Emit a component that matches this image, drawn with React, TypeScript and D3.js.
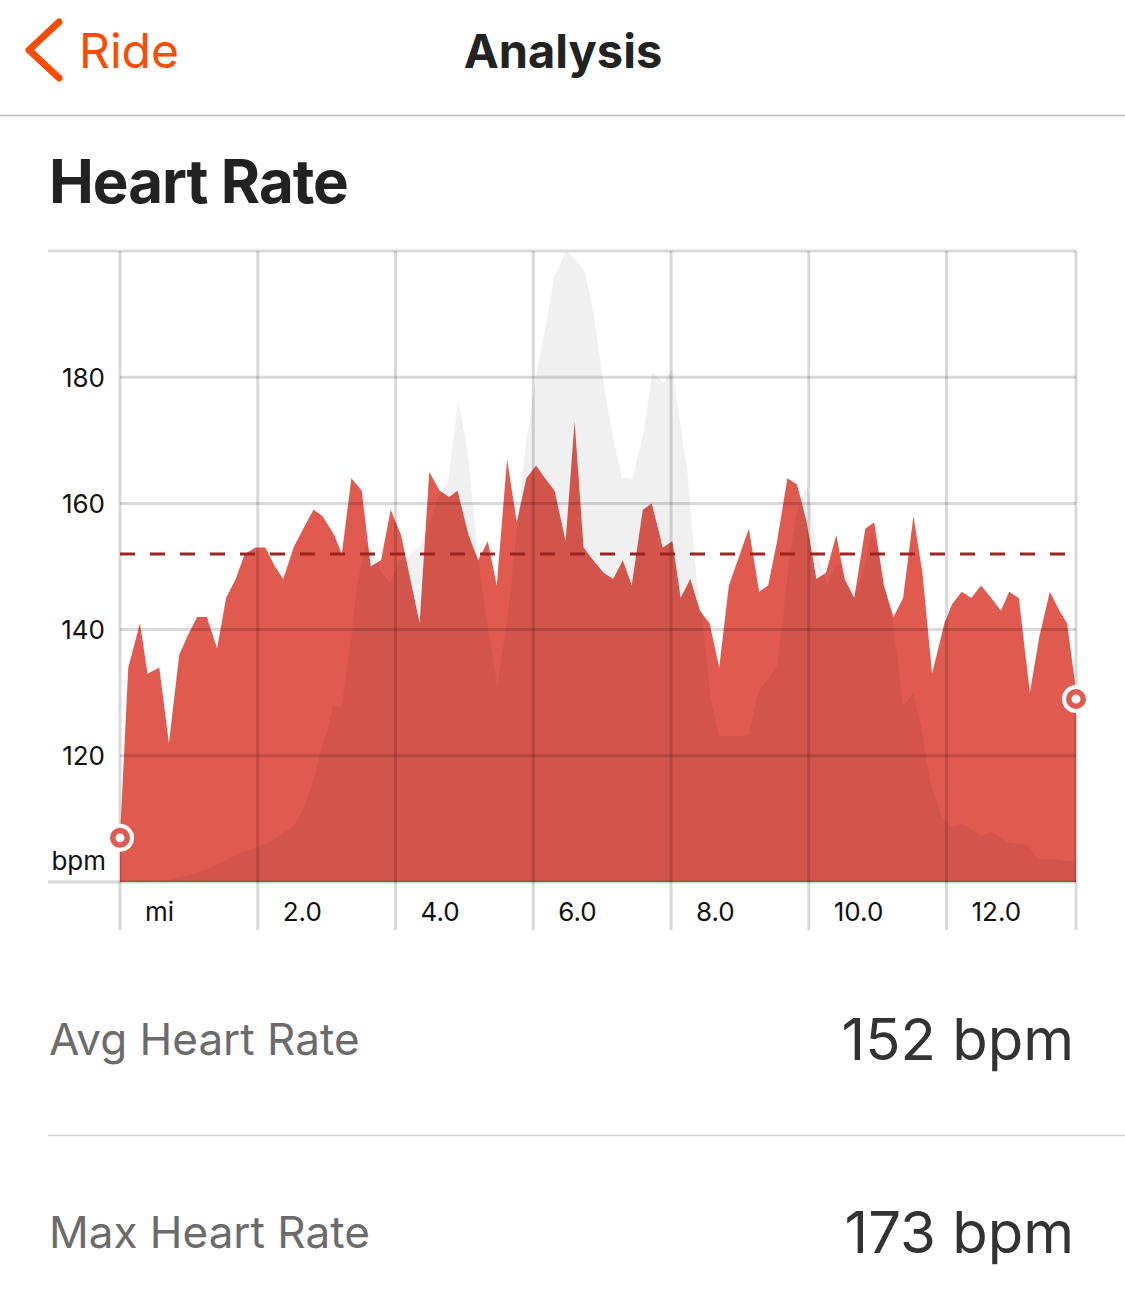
import React from 'react'
import * as d3 from 'd3'

// heart rate samples along the ride (miles, bpm)
const hrMiles = [
  0.0, 0.12, 0.29, 0.4, 0.57, 0.71, 0.86, 0.98, 1.12, 1.26, 1.41, 1.54, 1.68, 1.81, 1.97, 2.11, 2.25,
  2.37, 2.52, 2.66, 2.81, 2.94, 3.11, 3.22, 3.36, 3.51, 3.64, 3.79, 3.93, 4.08, 4.35, 4.49, 4.64, 4.78,
  4.9, 5.06, 5.2, 5.34, 5.47, 5.62, 5.76, 5.9, 6.04, 6.17, 6.31, 6.47, 6.6, 6.73, 6.87, 7.02, 7.16, 7.3,
  7.43, 7.59, 7.72, 7.88, 8.02, 8.14, 8.28, 8.42, 8.56, 8.7, 8.84, 9.13, 9.28, 9.41, 9.54, 9.69, 9.83,
  9.97, 10.11, 10.25, 10.4, 10.52, 10.66, 10.82, 10.95, 11.09, 11.23, 11.37, 11.52, 11.65, 11.79, 11.97,
  12.08, 12.22, 12.36, 12.5, 12.65, 12.79, 12.91, 13.05, 13.21, 13.35, 13.5, 13.64, 13.75, 13.86, 13.88,
]
const hrBpm = [
  107, 134, 141, 133, 134, 122, 136, 139, 142, 142, 137, 145, 148, 152, 153, 153, 150,
  148, 153, 156, 159, 158, 155, 152, 164, 162, 150, 151, 159, 155, 141, 165, 162, 161,
  162, 155, 151, 154, 147, 167, 157, 164, 166, 164, 162, 154, 173, 153, 151, 149, 148, 151,
  147, 159, 160, 153, 154, 145, 148, 143, 141, 134, 147, 156, 146, 147, 154, 164, 163,
  157, 148, 149, 155, 148, 145, 156, 157, 147, 142, 145, 158, 149, 133, 141,
  144, 146, 145, 147, 145, 143, 146, 145, 130, 139, 146, 143, 141, 132, 129,
]

// elevation profile (miles, feet)
const elevMiles = [
  0.0, 0.29, 0.62, 0.87, 1.12, 1.35, 1.55, 1.74, 1.99, 2.18, 2.37, 2.51, 2.66, 2.8, 2.9, 3.01, 3.09,
  3.22, 3.34, 3.44, 3.56, 3.67, 3.78, 3.92, 4.07, 4.21, 4.36, 4.47, 4.62, 4.76, 4.91, 5.05, 5.2, 5.33,
  5.48, 5.62, 5.77, 5.88, 6.06, 6.2, 6.3, 6.48, 6.58, 6.74, 6.87, 7.02, 7.16, 7.29, 7.44, 7.6, 7.73,
  7.89, 8.02, 8.13, 8.24, 8.31, 8.38, 8.45, 8.57, 8.7, 9.01, 9.12, 9.28, 9.41, 9.54, 9.63, 9.73, 9.85,
  9.98, 10.12, 10.27, 10.4, 10.5, 10.68, 10.79, 10.92, 11.04, 11.23, 11.37, 11.52, 11.65, 11.76, 11.94,
  12.08, 12.23, 12.37, 12.5, 12.65, 12.88, 13.04, 13.17, 13.33, 13.55, 13.75, 13.88,
]
const elevFeet = [
  400, 402, 401, 405, 409, 415, 422, 429, 435, 440, 449, 455, 472, 500, 527, 552, 575,
  576, 635, 695, 737, 733, 711, 699, 722, 727, 737, 752, 785, 799, 882, 830, 722, 660,
  596, 661, 756, 832, 914, 962, 1005, 1031, 1025, 1012, 972, 899, 844, 804, 803, 849, 910,
  899, 914, 860, 810, 752, 698, 669, 586, 546, 546, 547, 592, 603, 616, 667, 730, 777,
  797, 730, 697, 717, 719, 689, 709, 750, 722, 655, 576, 589, 549, 501, 464,
  455, 458, 452, 446, 450, 440, 438, 437, 423, 423, 421, 422,
]

const bpmTicks = [120, 140, 160, 180]
const mileTicks = [2, 4, 6, 8, 10, 12]
const avgHr = 152

const FONT = 'Inter, "Noto Sans", sans-serif'
const RED = '#e05a4f'
const ORANGE = '#fc4c02'

function HeartRateChart() {
  const left = 120
  const right = 1076
  const top = 251
  const bottom = 882
  const frameLeft = 48
  const tickBottom = 930

  const totalMiles = d3.max(hrMiles) as number
  const x = d3.scaleLinear().domain([0, totalMiles]).range([left, right])
  const y = d3.scaleLinear().domain([100, 200]).range([bottom, top])
  const yElev = d3
    .scaleLinear()
    .domain(d3.extent(elevFeet) as [number, number])
    .range([bottom, top])

  const hrData = hrMiles.map((m, i) => ({ m, v: hrBpm[i] }))
  const elevData = elevMiles.map((m, i) => ({ m, v: elevFeet[i] }))

  const hrArea = d3
    .area<{ m: number; v: number }>()
    .x((d) => x(d.m))
    .y0(bottom)
    .y1((d) => y(d.v))
  const elevArea = d3
    .area<{ m: number; v: number }>()
    .x((d) => x(d.m))
    .y0(bottom)
    .y1((d) => yElev(d.v))

  const gridX = [0, ...mileTicks, totalMiles]
  const first = hrData[0]
  const last = hrData[hrData.length - 1]
  const gridStroke = 'rgba(0,0,0,0.15)'

  return (
    <g>
      <path d={hrArea(hrData) ?? ''} fill={RED} />
      {/* elevation is drawn as a faint shade over the heart rate */}
      <path d={elevArea(elevData) ?? ''} fill="rgba(0,0,0,0.06)" />

      {/* inner grid starts at the plot edge, top and bottom rules run under the labels */}
      {bpmTicks.map((t) => (
        <line key={'h' + t} x1={left} x2={right} y1={y(t)} y2={y(t)} stroke={gridStroke} strokeWidth={3} />
      ))}
      <line x1={frameLeft} x2={right} y1={top} y2={top} stroke={gridStroke} strokeWidth={3} />
      <line x1={frameLeft} x2={right} y1={bottom} y2={bottom} stroke={gridStroke} strokeWidth={3} />
      {gridX.map((t) => (
        <line key={'v' + t} x1={x(t)} x2={x(t)} y1={top} y2={tickBottom} stroke={gridStroke} strokeWidth={3} />
      ))}

      <line
        x1={left}
        x2={1066}
        y1={y(avgHr)}
        y2={y(avgHr)}
        stroke="#9c2420"
        strokeWidth={3}
        strokeDasharray="15 15"
      />

      {bpmTicks.map((t) => (
        <text key={'yl' + t} x={105} y={y(t)} dy="0.36em" textAnchor="end" fontSize={26} fill="#111">
          {t}
        </text>
      ))}
      <text x={106} y={870} textAnchor="end" fontSize={26} fill="#111">
        bpm
      </text>

      <text x={x(0) + 25} y={921} fontSize={26} fill="#111">
        mi
      </text>
      {mileTicks.map((t) => (
        <text key={'xl' + t} x={x(t) + 25} y={921} fontSize={26} fill="#111">
          {t.toFixed(1)}
        </text>
      ))}

      {[first, last].map((d, i) => (
        <g key={'mk' + i} transform={`translate(${x(d.m)},${y(d.v)})`}>
          <circle r={12} fill={RED} stroke="#fff" strokeWidth={4} />
          <circle r={4.5} fill="#fff" />
        </g>
      ))}
    </g>
  )
}

export default function App() {
  const maxHr = d3.max(hrBpm) as number
  return (
    <svg
      width={1125}
      height={1298}
      style={{ position: 'absolute', left: 0, top: 0, background: '#fff', fontFamily: FONT }}
    >
      <rect width={1125} height={1298} fill="#fff" />

      {/* nav bar */}
      <path
        d="M59,22 L29,50 L59,78"
        fill="none"
        stroke={ORANGE}
        strokeWidth={7}
        strokeLinecap="round"
        strokeLinejoin="round"
      />
      <text x={79} y={68} fontSize={48} fill={ORANGE}>
        Ride
      </text>
      <text x={563} y={68} fontSize={47} fontWeight={700} fill="#222" textAnchor="middle">
        Analysis
      </text>
      <line x1={0} x2={1125} y1={115.5} y2={115.5} stroke="#bcbcbc" strokeWidth={1.5} />

      <text x={49} y={203} fontSize={60} fontWeight={700} letterSpacing={-1} fill="#222">
        Heart Rate
      </text>

      <HeartRateChart />

      {/* summary rows */}
      <text x={49} y={1055} fontSize={44} fill="#6b6b6b">
        Avg Heart Rate
      </text>
      <text x={1074} y={1060} fontSize={58} fill="#333" textAnchor="end">
        {avgHr} bpm
      </text>
      <line x1={48} x2={1125} y1={1135.5} y2={1135.5} stroke="#d4d4dc" strokeWidth={1.5} />
      <text x={49} y={1248} fontSize={44} fill="#6b6b6b">
        Max Heart Rate
      </text>
      <text x={1074} y={1253} fontSize={58} fill="#333" textAnchor="end">
        {maxHr} bpm
      </text>
    </svg>
  )
}
